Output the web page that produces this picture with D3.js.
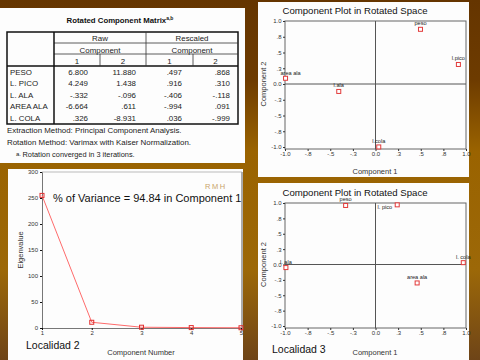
<!DOCTYPE html>
<html><head><meta charset="utf-8">
<script src="https://cdn.jsdelivr.net/npm/d3@7"></script>
<style>html,body{margin:0;padding:0;background:#6b3a00;}svg{display:block;font-family:"Liberation Sans",Arial,sans-serif;}</style>
</head><body>
<script>
// ---------- DATA ----------
const tableTitle = "Rotated Component Matrix";
const rowNames = ["PESO", "L. PICO", "L. ALA", "AREA ALA", "L. COLA"];
const rawComp1 = [6.800, 4.249, -0.332, -6.664, 0.326];
const rawComp2 = [11.880, 1.438, -0.096, 0.611, -8.931];
const rescComp1 = [0.497, 0.916, -0.406, -0.994, 0.036];
const rescComp2 = [0.868, 0.310, -0.118, 0.091, -0.999];
const footnotes = ["Extraction Method: Principal Component Analysis.",
                   "Rotation Method: Varimax with Kaiser Normalization."];
const footnoteA = "Rotation converged in 3 iterations.";

// Localidad 2 component plot (rescaled loadings)
const loc2Labels = ["peso", "l.pico", "area ala", "l.ala", "l.cola"];
const loc2C1 = [0.497, 0.916, -0.994, -0.406, 0.036];
const loc2C2 = [0.868, 0.310, 0.091, -0.118, -0.999];

// Localidad 3 component plot
const loc3Labels = ["peso", "l. pico", "l. ala", "l. cola", "area ala"];
const loc3C1 = [-0.33, 0.24, -0.99, 0.97, 0.46];
const loc3C2 = [0.96, 0.97, -0.05, 0.03, -0.30];

const compTicks = [-1, -0.75, -0.5, -0.25, 0, 0.25, 0.5, 0.75, 1];
const compTickLabels = ["-1.0", "-.8", "-.5", "-.3", "0.0", ".3", ".5", ".8", "1.0"];

// Scree plot (Localidad 2)
const screeComponents = [1, 2, 3, 4, 5];
const screeEigen = [255, 11, 1.5, 0.8, 0.5];
const screeYTicks = [0, 50, 100, 150, 200, 250, 300];
const varianceText = "% of Variance = 94.84 in Component 1";

// ---------- DRAW ----------
const W = 480, H = 360;
const svg = d3.select("body").append("svg").attr("width", W).attr("height", H);
const defs = svg.append("defs");
const bg = defs.append("linearGradient").attr("id", "bg").attr("x1", 0).attr("y1", 0).attr("x2", 0).attr("y2", 1);
[[0, "#653500"], [0.22, "#6d3b00"], [0.42, "#9a6300"], [0.75, "#9c6808"], [1, "#6e4418"]]
  .forEach(([o, c]) => bg.append("stop").attr("offset", o).attr("stop-color", c));
svg.append("rect").attr("width", W).attr("height", H).attr("fill", "url(#bg)");

const panel = (x, y, w, h) => svg.append("rect").attr("x", x).attr("y", y).attr("width", w).attr("height", h).attr("fill", "#fdfdfd");
panel(0, 8, 245, 155);
panel(258, 2, 211, 175);
panel(8, 169, 235, 191);
panel(258, 183, 211, 177);

// ---------- TABLE ----------
const spss = v => v.toFixed(3).replace(/^(-?)0\./, "$1.");
const tg = svg.append("g").attr("font-size", 7.9).attr("fill", "#222");
const tt = tg.append("text").attr("x", 120).attr("y", 23).attr("text-anchor", "middle")
  .attr("font-weight", "bold").attr("font-size", 7.8).attr("fill", "#111").text(tableTitle);
tt.append("tspan").attr("font-size", 5).attr("dy", -3).text("a,b");

const colX = [7, 54, 100, 146, 193, 238];
const tTop = 32, tBot = 124;
const line = (x1, y1, x2, y2, w, c) => tg.append("line").attr("x1", x1).attr("y1", y1).attr("x2", x2).attr("y2", y2)
  .attr("stroke", c || "#333").attr("stroke-width", w || 0.8);
tg.append("rect").attr("x", colX[0]).attr("y", tTop).attr("width", colX[5] - colX[0]).attr("height", tBot - tTop)
  .attr("fill", "none").attr("stroke", "#111").attr("stroke-width", 1.5);
line(colX[1], 43, colX[5], 43);
line(colX[1], 54, colX[5], 54);
line(colX[0], 66, colX[5], 66, 1.5, "#111");
line(colX[1], tTop, colX[1], tBot, 1.5, "#111");
line(colX[3], tTop, colX[3], 66);
line(colX[2], 54, colX[2], 66);
line(colX[4], 54, colX[4], 66);
const ctr = (a, b) => (a + b) / 2;
[["Raw", ctr(colX[1], colX[3])], ["Rescaled", ctr(colX[3], colX[5])]].forEach(([t, x]) =>
  tg.append("text").attr("x", x).attr("y", 40.5).attr("text-anchor", "middle").text(t));
[ctr(colX[1], colX[3]), ctr(colX[3], colX[5])].forEach(x =>
  tg.append("text").attr("x", x).attr("y", 52.5).attr("text-anchor", "middle").text("Component"));
["1", "2", "1", "2"].forEach((t, i) =>
  tg.append("text").attr("x", ctr(colX[i + 1], colX[i + 2])).attr("y", 63.5).attr("text-anchor", "middle").text(t));
const rowY = d3.scaleBand().domain(rowNames).range([66, 124]);
const numRight = [88, 136, 182, 230];
const cols = [rawComp1, rawComp2, rescComp1, rescComp2];
rowNames.forEach((r, i) => {
  const y = rowY(r) + rowY.bandwidth() / 2 + 2.7;
  tg.append("text").attr("x", 10).attr("y", y).text(r);
  cols.forEach((c, j) => tg.append("text").attr("x", numRight[j]).attr("y", y).attr("text-anchor", "end").text(spss(c[i])));
});
footnotes.forEach((f, i) => tg.append("text").attr("x", 7).attr("y", 132.5 + i * 12).text(f));
tg.append("text").attr("x", 16).attr("y", 155.5).attr("font-size", 6).text("a.");
tg.append("text").attr("x", 22.5).attr("y", 156.5).attr("font-size", 7.4).text(footnoteA);

// ---------- COMPONENT PLOTS ----------
function compPlot(o) {
  const g = svg.append("g");
  const x = d3.scaleLinear().domain([-1, 1]).range([285, 466]);
  const y = d3.scaleLinear().domain([-1, 1]).range([o.bottom, o.top]);
  g.append("text").attr("x", 355).attr("y", o.titleY).attr("text-anchor", "middle").attr("font-size", 9.6)
    .attr("fill", "#111").text("Component Plot in Rotated Space");
  g.append("rect").attr("x", x(-1)).attr("y", y(1)).attr("width", x(1) - x(-1)).attr("height", y(-1) - y(1) + 2)
    .attr("fill", "none").attr("stroke", "#666").attr("stroke-width", 1);
  g.append("line").attr("x1", x(0)).attr("x2", x(0)).attr("y1", y(1)).attr("y2", y(-1) + 2).attr("stroke", "#555");
  g.append("line").attr("x1", x(-1)).attr("x2", x(1)).attr("y1", y(0)).attr("y2", y(0)).attr("stroke", "#555");
  const ya = g.append("g").attr("transform", `translate(${x(-1)},0)`)
    .call(d3.axisLeft(y).tickValues(compTicks).tickFormat((d, i) => compTickLabels[i]).tickSize(2).tickPadding(1.5));
  const xa = g.append("g").attr("transform", `translate(0,${y(-1) + 2})`)
    .call(d3.axisBottom(x).tickValues(compTicks).tickFormat((d, i) => compTickLabels[i]).tickSize(2).tickPadding(1));
  [ya, xa].forEach(a => {
    a.select(".domain").remove();
    a.selectAll("text").attr("font-size", 6).attr("fill", "#333").attr("font-family", "Liberation Sans, Arial");
    a.selectAll("line").attr("stroke", "#333");
  });
  g.append("text").attr("x", 375).attr("y", o.xLabY).attr("text-anchor", "middle").attr("font-size", 7.5)
    .attr("fill", "#333").text("Component 1");
  g.append("text").attr("transform", `translate(266,${y(0)}) rotate(-90)`).attr("text-anchor", "middle")
    .attr("font-size", 7.5).attr("fill", "#333").text("Component 2");
  o.labels.forEach((lab, i) => {
    const px = x(o.c1[i]), py = y(o.c2[i]);
    g.append("rect").attr("x", px - 2).attr("y", py - 2).attr("width", 4).attr("height", 4)
      .attr("fill", "#fff").attr("stroke", "#e23a3a").attr("stroke-width", 1);
    const sp = (o.special || {})[lab] || [0, -4, "middle"];
    g.append("text").attr("x", px + sp[0]).attr("y", py + sp[1])
      .attr("text-anchor", sp[2]).attr("font-size", 5.6).attr("fill", "#222").text(lab);
  });
  if (o.loc) g.append("text").attr("x", 272).attr("y", 353).attr("font-size", 10.5).attr("fill", "#111").text(o.loc);
}
compPlot({ top: 21, bottom: 147, titleY: 14, xLabY: 174, labels: loc2Labels, c1: loc2C1, c2: loc2C2,
  special: { "area ala": [5, -3.5, "middle"] } });
compPlot({ top: 203, bottom: 326, titleY: 196, xLabY: 355, labels: loc3Labels, c1: loc3C1, c2: loc3C2,
  special: { "l. pico": [-5, 4, "end"] }, loc: "Localidad 3" });

// ---------- SCREE PLOT ----------
const sg = svg.append("g");
const sx = d3.scaleLinear().domain([1, 5]).range([42, 241]);
const sy = d3.scaleLinear().domain([0, 300]).range([328, 172]);
sg.append("line").attr("x1", sx(1)).attr("x2", sx(5) + 1).attr("y1", sy(300)).attr("y2", sy(300)).attr("stroke", "#bbb");
sg.append("line").attr("x1", sx(5) + 1).attr("x2", sx(5) + 1).attr("y1", sy(300)).attr("y2", sy(0) + 3).attr("stroke", "#aaa").attr("stroke-width", 2);
const sya = sg.append("g").attr("transform", `translate(${sx(1)},0)`)
  .call(d3.axisLeft(sy).tickValues(screeYTicks).tickSize(2).tickPadding(2));
const sxa = sg.append("g").attr("transform", `translate(0,${sy(0)})`)
  .call(d3.axisBottom(sx).tickValues(screeComponents).tickFormat(d3.format("d")).tickSize(2).tickPadding(1));
[sya, sxa].forEach(a => {
  a.select(".domain").attr("stroke", "#777");
  a.selectAll("text").attr("font-size", 6).attr("fill", "#333").attr("font-family", "Liberation Sans, Arial");
  a.selectAll(".tick line").attr("stroke", "#111");
});
sg.append("path").datum(screeComponents.map((c, i) => [c, screeEigen[i]]))
  .attr("d", d3.line().x(d => sx(d[0])).y(d => sy(d[1]))).attr("fill", "none").attr("stroke", "#ff6b6b").attr("stroke-width", 1);
screeComponents.forEach((c, i) => sg.append("rect").attr("x", sx(c) - 2).attr("y", sy(screeEigen[i]) - 2)
  .attr("width", 4).attr("height", 4).attr("fill", "none").attr("stroke", "#e03030"));
sg.append("text").attr("x", 53).attr("y", 202).attr("font-size", 11).attr("fill", "#111").text(varianceText);
sg.append("text").attr("x", 205).attr("y", 189).attr("font-size", 7.5).attr("letter-spacing", 1.5).attr("fill", "#c9a46a").text("RMH");
sg.append("text").attr("transform", `translate(23,250) rotate(-90)`).attr("text-anchor", "middle")
  .attr("font-size", 7.5).attr("fill", "#333").text("Eigenvalue");
sg.append("text").attr("x", 141).attr("y", 355).attr("text-anchor", "middle").attr("font-size", 7.5).attr("fill", "#333").text("Component Number");
sg.append("text").attr("x", 26).attr("y", 349).attr("font-size", 10.5).attr("fill", "#111").text("Localidad 2");
</script>
</body></html>
